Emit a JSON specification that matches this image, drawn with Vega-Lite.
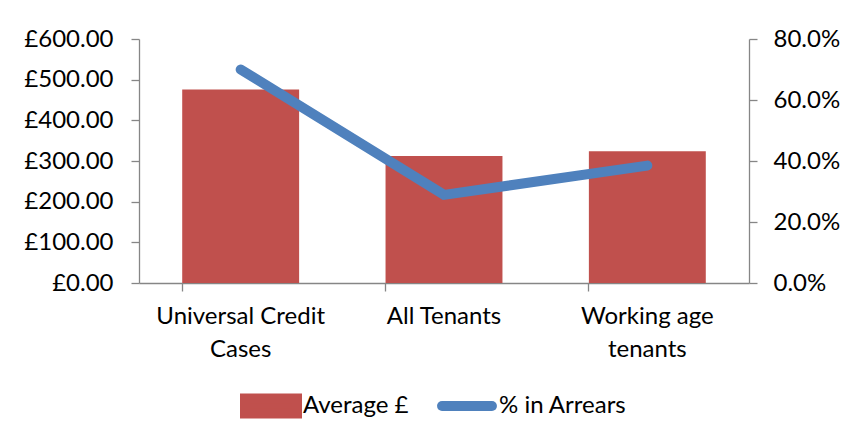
{
  "$schema": "https://vega.github.io/schema/vega-lite/v6.json",
  "width": 610,
  "height": 244,
  "autosize": "none",
  "padding": {"left": 139, "top": 39, "right": 97, "bottom": 156},
  "background": "white",
  "data": {
    "values": [
      {"group": "Universal Credit Cases", "average": 476, "arrears": 0.70},
      {"group": "All Tenants", "average": 312, "arrears": 0.289},
      {"group": "Working age tenants", "average": 324, "arrears": 0.385}
    ]
  },
  "encoding": {
    "x": {
      "field": "group",
      "type": "nominal",
      "sort": null,
      "scale": {"paddingInner": 0.425, "paddingOuter": 0.2125},
      "axis": {
        "title": null,
        "labelAngle": 0,
        "bandPosition": 0,
        "labelExpr": "datum.value == 'Universal Credit Cases' ? ['Universal Credit', 'Cases'] : datum.value == 'Working age tenants' ? ['Working age', 'tenants'] : datum.value",
        "labelLineHeight": 33,
        "labelPadding": 13,
        "tickSize": 8,
        "labelBaseline": "top"
      }
    }
  },
  "layer": [
    {
      "mark": {"type": "bar", "color": "#C0504D"},
      "encoding": {
        "y": {
          "field": "average",
          "type": "quantitative",
          "scale": {"domain": [0, 600], "nice": false},
          "axis": {
            "title": null,
            "orient": "left",
            "values": [0, 100, 200, 300, 400, 500, 600],
            "labelExpr": "'£' + format(datum.value, '.2f')",
            "tickSize": 8,
            "labelPadding": 18,
            "grid": false
          }
        },
        "color": {
          "datum": "Average £",
          "type": "nominal",
          "legend": {
            "encode": {
              "symbols": {
                "update": {
                  "shape": {"signal": "datum.value == 'Average £' ? 'M-1,-0.29H1V0.29H-1Z' : 'M-0.96,0H0.96'"},
                  "size": {"value": 2704},
                  "fill": {"signal": "datum.value == 'Average £' ? '#C0504D' : 'transparent'"},
                  "stroke": {"signal": "datum.value == 'Average £' ? 'transparent' : '#4F81BD'"},
                  "strokeWidth": {"value": 10},
                  "strokeCap": {"value": "round"}
                }
              }
            }
          }
        }
      }
    },
    {
      "mark": {"type": "line", "strokeWidth": 10, "strokeCap": "round", "strokeJoin": "miter"},
      "encoding": {
        "y": {
          "field": "arrears",
          "type": "quantitative",
          "scale": {"domain": [0, 0.8], "nice": false},
          "axis": {
            "title": null,
            "orient": "right",
            "values": [0, 0.2, 0.4, 0.6, 0.8],
            "format": ".1%",
            "tickSize": 8,
            "labelPadding": 16,
            "grid": false
          }
        },
        "color": {"datum": "% in Arrears", "type": "nominal"}
      }
    }
  ],
  "resolve": {"scale": {"y": "independent"}},
  "config": {
    "view": {"stroke": null},
    "font": "Lato",
    "axis": {
      "labelFont": "Lato",
      "labelFontSize": 24,
      "labelColor": "#000000",
      "domainColor": "#868686",
      "tickColor": "#868686",
      "domainWidth": 1.3,
      "tickWidth": 1.3
    },
    "range": {"category": ["#C0504D", "#4F81BD"]},
    "legend": {
      "orient": "none",
      "direction": "horizontal",
      "legendX": 101,
      "legendY": 352,
      "title": null,
      "padding": 0,
      "labelFont": "Lato",
      "labelFontSize": 24,
      "labelColor": "#000000",
      "symbolSize": 2704,
      "symbolStrokeWidth": 10,
      "symbolOffset": 0,
      "labelOffset": 1,
      "clipHeight": 30,
      "columnPadding": 27
    }
  }
}
